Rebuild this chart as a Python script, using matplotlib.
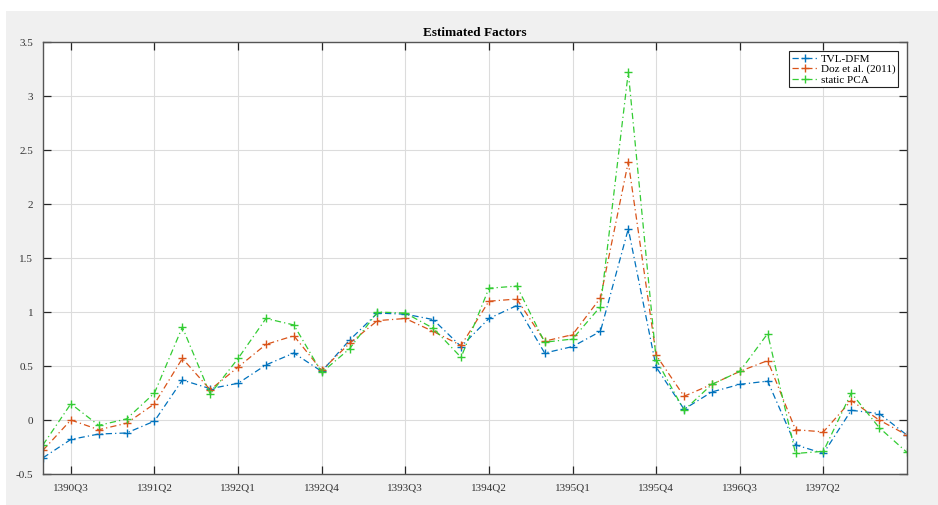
import matplotlib
matplotlib.use("Agg")
import matplotlib.pyplot as plt
from matplotlib.patches import Rectangle

# Quarterly periods (Persian calendar), 1390Q2 .. 1398Q1
periods = [f"{1390 + (q + 1) // 4}Q{(q + 1) % 4 + 1}" for q in range(32)]

tvl_dfm = [-0.35, -0.18, -0.13, -0.12, -0.01, 0.37, 0.29, 0.34, 0.51, 0.62,
           0.45, 0.74, 0.99, 0.98, 0.93, 0.68, 0.94, 1.06, 0.62, 0.68,
           0.82, 1.77, 0.49, 0.10, 0.26, 0.33, 0.36, -0.23, -0.31, 0.09,
           0.06, -0.14]
doz_2011 = [-0.28, 0.00, -0.09, -0.03, 0.15, 0.57, 0.28, 0.49, 0.70, 0.78,
            0.46, 0.71, 0.92, 0.94, 0.82, 0.69, 1.10, 1.12, 0.73, 0.79,
            1.13, 2.39, 0.60, 0.22, 0.33, 0.45, 0.55, -0.09, -0.11, 0.18,
            0.00, -0.14]
static_pca = [-0.23, 0.15, -0.05, 0.01, 0.25, 0.86, 0.24, 0.57, 0.94, 0.88,
              0.44, 0.66, 1.00, 0.99, 0.85, 0.58, 1.22, 1.24, 0.72, 0.75,
              1.05, 3.22, 0.56, 0.09, 0.33, 0.45, 0.80, -0.31, -0.29, 0.25,
              -0.07, -0.30]

series_names = ["TVL-DFM", "Doz et al. (2011)", "static PCA"]
series_colors = ["#0072BD", "#D95319", "#33CC33"]

plt.rcParams["font.family"] = ["Liberation Serif", "DejaVu Serif"]

fig = plt.figure(figsize=(9.38, 5.05), dpi=100, facecolor="white")
fig.patches.append(Rectangle((6 / 938, 0), 1, 1 - 11 / 505,
                             transform=fig.transFigure, facecolor="#F0F0F0",
                             edgecolor="none", zorder=-10))

ax = fig.add_axes([43 / 938, 31 / 505, 864 / 938, 432 / 505])
ax.set_facecolor("white")

x = list(range(len(periods)))
for vals, name, col in zip([tvl_dfm, doz_2011, static_pca], series_names, series_colors):
    ax.plot(x, vals, linestyle=(0, (5, 2.5, 1, 2.5)), marker="+", color=col,
            lw=0.9, markersize=6, markeredgewidth=1.0, label=name)

ax.set_xlim(0, len(periods) - 1)
ax.set_ylim(-0.5, 3.5)
tick_idx = list(range(1, len(periods) - 1, 3))
ax.set_xticks(tick_idx)
ax.set_xticklabels([periods[i] for i in tick_idx])
ax.set_yticks([-0.5, 0, 0.5, 1, 1.5, 2, 2.5, 3, 3.5])
ax.set_yticklabels(["-0.5", "0", "0.5", "1", "1.5", "2", "2.5", "3", "3.5"])

ax.grid(True, color="#DCDCDC", lw=0.8)
ax.set_axisbelow(True)
ax.tick_params(direction="in", top=True, right=True, length=6, width=0.9,
               colors="#262626", labelsize=8, labelcolor="#333333", pad=7)
for s in ax.spines.values():
    s.set_color("#555555")
    s.set_linewidth(1.0)

ax.set_title("Estimated Factors", fontsize=9.5, fontweight="bold", pad=4)

leg = ax.legend(loc="upper right", bbox_to_anchor=(0.990, 0.979), fontsize=8,
                frameon=True, fancybox=False, framealpha=1, edgecolor="#222222",
                handlelength=2.4, borderpad=0.25, labelspacing=0.05,
                handletextpad=0.2, borderaxespad=0)
leg.get_frame().set_linewidth(0.8)

fig.savefig("out.png", dpi=100, facecolor=fig.get_facecolor())
